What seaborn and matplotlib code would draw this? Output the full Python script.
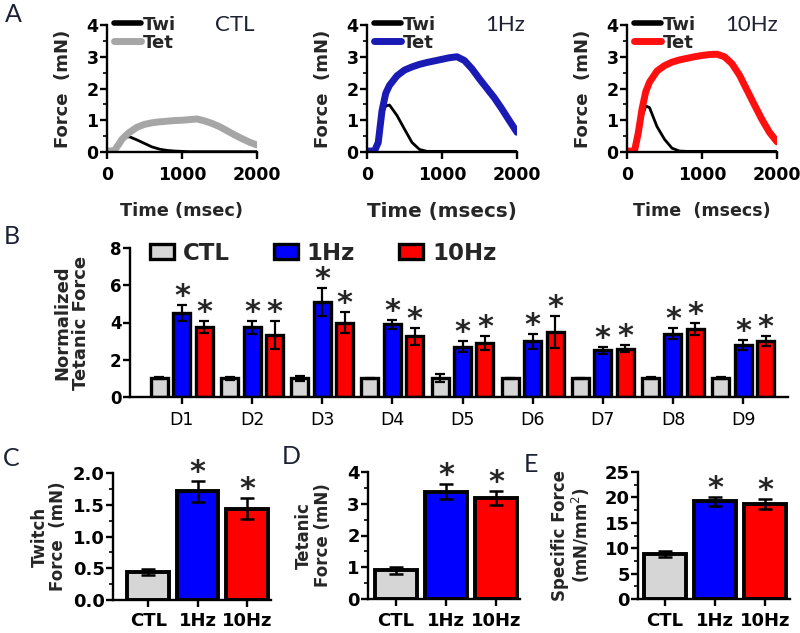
import numpy as np
import pandas as pd
import matplotlib
matplotlib.use('Agg')
import matplotlib.pyplot as plt
import seaborn as sns
from matplotlib.ticker import MultipleLocator, FormatStrFormatter

# ---- Panel A: force traces ----
time_ms = [0, 100, 150, 200, 250, 300, 400, 500, 600, 700, 800, 900, 1000,
           1100, 1200, 1300, 1400, 1500, 1600, 1700, 1800, 1900, 2000]

twi_ctl = [0.02, 0.03, 0.20, 0.38, 0.47, 0.48, 0.38, 0.27, 0.16, 0.09, 0.05, 0.03, 0.02,
           0.01, 0.01, 0.01, 0.01, 0.01, 0.01, 0.01, 0.01, 0.01, 0.01]
tet_ctl = [0.02, 0.05, 0.22, 0.40, 0.52, 0.62, 0.78, 0.87, 0.92, 0.95, 0.97, 0.99, 1.00,
           1.02, 1.04, 0.98, 0.90, 0.80, 0.67, 0.54, 0.42, 0.31, 0.22]

twi_1hz = [0.02, 0.02, 0.50, 1.20, 1.45, 1.48, 1.15, 0.72, 0.30, 0.08, 0.02, 0.02, 0.02,
           0.02, 0.02, 0.02, 0.02, 0.02, 0.02, 0.02, 0.02, 0.02, 0.02]
tet_1hz = [0.03, 0.03, 0.30, 1.30, 1.85, 2.10, 2.40, 2.58, 2.68, 2.76, 2.82, 2.87, 2.92,
           2.97, 3.00, 2.88, 2.62, 2.30, 2.00, 1.70, 1.35, 0.98, 0.62]

twi_10hz = [0.02, 0.02, 0.40, 1.10, 1.45, 1.40, 0.80, 0.40, 0.12, 0.03, 0.02, 0.02, 0.02,
            0.02, 0.02, 0.02, 0.02, 0.02, 0.02, 0.02, 0.02, 0.02, 0.02]
tet_10hz = [0.03, 0.03, 0.60, 1.35, 1.90, 2.20, 2.55, 2.72, 2.83, 2.90, 2.95, 3.00, 3.04,
            3.07, 3.08, 3.00, 2.78, 2.42, 1.95, 1.48, 1.02, 0.62, 0.32]

# ---- Panel B: normalized tetanic force per day ----
days = ['D1', 'D2', 'D3', 'D4', 'D5', 'D6', 'D7', 'D8', 'D9']
groups = ['CTL', '1Hz', '10Hz']
b_ctl = [1.0, 1.0, 1.0, 1.0, 1.0, 1.0, 1.0, 1.0, 1.0]
b_ctl_err = [0.05, 0.08, 0.12, 0.03, 0.22, 0.03, 0.04, 0.05, 0.06]
b_1hz = [4.5, 3.75, 5.1, 3.9, 2.7, 3.0, 2.5, 3.4, 2.8]
b_1hz_err = [0.43, 0.35, 0.75, 0.25, 0.30, 0.40, 0.20, 0.30, 0.28]
b_10hz = [3.75, 3.35, 4.0, 3.25, 2.9, 3.5, 2.6, 3.65, 3.0]
b_10hz_err = [0.33, 0.75, 0.55, 0.45, 0.35, 0.85, 0.20, 0.30, 0.25]

# ---- Panels C, D, E ----
twitch_force = [0.44, 1.71, 1.44]
twitch_err = [0.05, 0.16, 0.17]
tetanic_force = [0.90, 3.38, 3.18]
tetanic_err = [0.10, 0.24, 0.22]
specific_force = [8.9, 19.2, 18.7]
specific_err = [0.6, 0.9, 1.0]

grey = '#d6d6d6'
blue = '#0000ff'
red = '#ff0000'
bar_colors = [grey, blue, red]
tet_colors = ['#a6a6a6', '#1a1ab4', '#ff1010']

sns.set_style('ticks')
plt.rcParams['font.family'] = ['DejaVu Sans']
plt.rcParams['axes.linewidth'] = 1.7
plt.rcParams['xtick.major.width'] = 1.7
plt.rcParams['ytick.major.width'] = 1.7
plt.rcParams['xtick.minor.width'] = 1.2
plt.rcParams['ytick.minor.width'] = 1.2
plt.rcParams['xtick.major.size'] = 5
plt.rcParams['ytick.major.size'] = 5
plt.rcParams['ytick.minor.size'] = 3
plt.rcParams['xtick.color'] = 'black'
plt.rcParams['ytick.color'] = 'black'
plt.rcParams['axes.edgecolor'] = 'black'

fig = plt.figure(figsize=(8, 6.33), dpi=100)
W, H = 800, 633


def px_axes(left, top, right, bottom):
    return fig.add_axes([left / W, 1 - bottom / H, (right - left) / W, (bottom - top) / H])


def style_axes(ax, fs=12):
    sns.despine(ax=ax)
    for lab in ax.get_xticklabels() + ax.get_yticklabels():
        lab.set_fontweight('bold')
        lab.set_fontsize(fs)


def star(ax, x, y):
    ax.annotate('*', xy=(x, y), xytext=(0, 0), textcoords='offset points',
                ha='center', va='baseline', fontsize=22, fontweight='bold')


label_font = dict(family=['Lato', 'DejaVu Sans'], color='#1c2233')

# ---- Panel A ----
a_specs = [
    (107, twi_ctl, tet_ctl, tet_colors[0], 'CTL', 0.72, 'Time (msec)', 12.8),
    (367, twi_1hz, tet_1hz, tet_colors[1], '1Hz', 0.79, 'Time (msecs)', 14.3),
    (627, twi_10hz, tet_10hz, tet_colors[2], '10Hz', 0.655, 'Time  (msecs)', 12.6),
]
for left, twi, tet, col, name, name_x, xlab, xfs in a_specs:
    ax = px_axes(left, 25, left + 150, 152)
    sns.lineplot(x=time_ms, y=twi, color='black', linewidth=2.0, ax=ax, label='Twi')
    sns.lineplot(x=time_ms, y=tet, color=col, linewidth=5, ax=ax, label='Tet')
    ax.set_xlim(0, 2000)
    ax.set_ylim(0, 4)
    ax.set_xticks([0, 1000, 2000])
    ax.set_yticks([0, 1, 2, 3, 4])
    ax.yaxis.set_minor_locator(MultipleLocator(0.5))
    ax.tick_params(axis='y', pad=1)
    ax.tick_params(axis='x', pad=5)
    ax.set_ylabel('Force  (mN)', fontsize=13, fontweight='bold')
    ax.yaxis.set_label_coords(-0.233, 0.5)
    ax.set_xlabel(xlab, fontsize=xfs, fontweight='bold', labelpad=13)
    style_axes(ax, 12.5)
    leg = ax.legend(loc='upper left', bbox_to_anchor=(0.0, 1.13), frameon=False,
                    handlelength=1.5, handletextpad=0.1, labelspacing=0.0,
                    borderaxespad=0, prop=dict(weight='bold', size=13))
    leg_lines = leg.get_lines()
    leg_lines[0].set_linewidth(4)
    leg_lines[1].set_linewidth(5)
    ax.text(name_x, 1.0, name, transform=ax.transAxes, fontsize=16,
            va='center', ha='left', **label_font)

# ---- Panel B ----
axB = px_axes(130, 248, 788, 397)
b_df = pd.DataFrame({
    'day': days * 3,
    'group': [g for g in groups for _ in days],
    'value': b_ctl + b_1hz + b_10hz,
})
sns.barplot(data=b_df, x='day', y='value', hue='group', hue_order=groups,
            palette=bar_colors, saturation=1, width=0.96, gap=0.24, edgecolor='black',
            linewidth=2.4, errorbar=None, ax=axB)
b_vals = [b_ctl, b_1hz, b_10hz]
b_errs = [b_ctl_err, b_1hz_err, b_10hz_err]
bar_conts = list(axB.containers)
for k, cont in enumerate(bar_conts):
    xs = [p.get_x() + p.get_width() / 2 for p in cont.patches]
    axB.errorbar(xs, b_vals[k], yerr=b_errs[k], fmt='none', ecolor='black',
                 elinewidth=1.6, capsize=3.5, capthick=1.6, zorder=3)
    if k > 0:
        for x, v, e in zip(xs, b_vals[k], b_errs[k]):
            star(axB, x, v + e)
axB.set_xlim(-0.74, 8.64)
axB.set_ylim(0, 8)
axB.set_yticks([0, 2, 4, 6, 8])
axB.set_xlabel('')
axB.set_ylabel('Normalized\nTetanic Force', fontsize=13, fontweight='bold', linespacing=1.0)
axB.yaxis.set_label_coords(-0.061, 0.5)
axB.tick_params(axis='y', pad=1)
axB.tick_params(axis='x', pad=5)
style_axes(axB, 12)
for lab in axB.get_xticklabels():
    lab.set_fontweight('normal')
    lab.set_fontsize(12.5)
handles, labels = axB.get_legend_handles_labels()
axB.legend(handles, labels, loc='center left', bbox_to_anchor=(0.03, 0.965), ncol=3,
           frameon=False, handlelength=1.05, handleheight=0.65, handletextpad=0.4,
           columnspacing=1.9, borderpad=0, borderaxespad=0,
           prop=dict(weight='bold', size=16.5))

# ---- Panels C, D, E ----
cde_specs = [
    ((113, 473, 271, 600), twitch_force, twitch_err, (-0.71, 2.48), (0, 2), 0.5, 0.25,
     'Twitch\nForce  (mN)', -0.29),
    ((368, 472, 520, 599), tetanic_force, tetanic_err, (-0.56, 2.48), (0, 4), 1, 0.5,
     'Tetanic\nForce (mN)', -0.237),
    ((638, 472, 790, 599), specific_force, specific_err, (-0.54, 2.5), (0, 25), 5, 2.5,
     'Specific Force\n(mN/mm$^2$)', -0.30),
]
for box, vals, errs, xlim, ylim, major, minor, ylab, ylab_x in cde_specs:
    ax = px_axes(*box)
    sns.barplot(x=groups, y=vals, hue=groups, palette=bar_colors, saturation=1, legend=False,
                width=0.84, edgecolor='black', linewidth=2.8, errorbar=None, ax=ax)
    xs = [p.get_x() + p.get_width() / 2 for p in ax.patches]
    ax.errorbar(xs, vals, yerr=errs, fmt='none', ecolor='black', elinewidth=1.8,
                capsize=5, capthick=1.8, zorder=3)
    for x, v, e in zip(xs[1:], vals[1:], errs[1:]):
        star(ax, x, v + e)
    ax.set_xlim(*xlim)
    ax.set_ylim(*ylim)
    ax.yaxis.set_major_locator(MultipleLocator(major))
    ax.yaxis.set_minor_locator(MultipleLocator(minor))
    if major == 0.5:
        ax.yaxis.set_major_formatter(FormatStrFormatter('%.1f'))
    ax.tick_params(axis='y', pad=1)
    ax.tick_params(axis='x', pad=4)
    ax.set_ylabel(ylab, fontsize=12, fontweight='bold', linespacing=1.05)
    ax.yaxis.set_label_coords(ylab_x, 0.5)
    style_axes(ax, 13)

# ---- panel letters ----
for letter, x, y in [('A', 5, 14), ('B', 4, 237), ('C', 3, 459), ('D', 282, 457), ('E', 524, 464)]:
    fig.text(x / W, 1 - y / H, letter, fontsize=18, va='center', ha='left', **label_font)

fig.savefig('out.png', dpi=100)
